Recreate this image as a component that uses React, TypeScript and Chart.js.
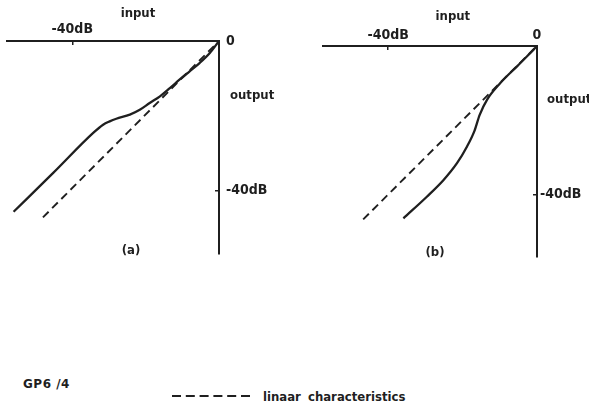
import React, { useEffect, useRef } from "react";
import { Chart, registerables } from "chart.js";

Chart.register(...registerables);

// ---------- data (dB) ----------
// Panel (a)
const A_CURVE_IN = [-56.0, -45.2, -34.3, -31.6, -29.8, -28.0, -24.3, -21.6, -18.9, -16.1, -13.4, -10.7, -8.0, -5.3, -2.5, 0];
const A_CURVE_OUT = [-45.7, -35.3, -24.6, -22.4, -21.5, -20.8, -19.7, -18.4, -16.6, -14.8, -12.6, -10.3, -8.1, -5.9, -3.2, 0];
const A_LINEAR_IN = [-48, 0];
const A_LINEAR_OUT = [-47.2, 0];
// Panel (b)
const B_CURVE_IN = [-35.9, -29.6, -25.1, -21.5, -18.8, -16.8, -15.4, -13.4, -9.8, -5.3, -2.6, 0];
const B_CURVE_OUT = [-46.3, -40.5, -36.0, -31.5, -27.0, -22.8, -18.5, -14.4, -9.9, -5.4, -2.7, 0];
const B_LINEAR_IN = [-46.7, 0];
const B_LINEAR_OUT = [-46.6, 0];

// ticks
const A_X_TICKS = [-40];
const A_X_TICK_LABELS = ["-40dB"];
const A_Y_TICKS = [-40, 0];
const A_Y_TICK_LABELS = ["-40dB", "0"];
const B_X_TICKS = [-40, 0];
const B_X_TICK_LABELS = ["-40dB", "0"];
const B_Y_TICKS = [-40];
const B_Y_TICK_LABELS = ["-40dB"];

// texts
const INPUT_LABEL = "input";
const OUTPUT_LABEL = "output";
const A_CAPTION = "(a)";
const B_CAPTION = "(b)";
const LEGEND_LABEL = "linaar characteristics";
const FIGURE_CODE = "GP6 /4";

// ---------- style ----------
const INK = "#1f1f1f";
const FAMILY = '"DejaVu Sans Condensed", "DejaVu Sans", sans-serif';

const toPoints = (xs: number[], ys: number[]) => xs.map((x, i) => ({ x, y: ys[i] }));

const panelTextPlugin = {
  id: "panelText",
  afterDraw(chart: any, _args: any, opts: any) {
    const { ctx } = chart;
    const xs = chart.scales.x;
    const ys = chart.scales.y;
    ctx.save();
    ctx.fillStyle = INK;
    ctx.textBaseline = "middle";
    for (const t of opts.items || []) {
      ctx.font = `bold ${t.size}px ${FAMILY}`;
      ctx.textAlign = t.align;
      ctx.fillText(t.text, xs.getPixelForValue(t.x), ys.getPixelForValue(t.y));
    }
    ctx.restore();
  },
};

type PanelCfg = {
  left: number;
  w: number;
  h: number;
  curveIn: number[];
  curveOut: number[];
  linIn: number[];
  linOut: number[];
  xMin: number;
  yMin: number;
  xTicks: number[];
  xTickLabels: string[];
  yTicks: number[];
  yTickLabels: string[];
  padLeft: number;
  padBottom: number;
  topH: number;
  rightW: number;
  xPad: number;
  yPad: number;
  texts: any[];
};

function Panel({ cfg }: { cfg: PanelCfg }) {
  const ref = useRef<HTMLCanvasElement>(null);
  useEffect(() => {
    const canvas = ref.current;
    if (!canvas) return;
    const tickFont = { family: FAMILY, size: 14, weight: "bold" as const };
    const chart = new Chart(canvas, {
      type: "scatter",
      data: {
        datasets: [
          {
            label: "curve",
            data: toPoints(cfg.curveIn, cfg.curveOut),
            showLine: true,
            borderColor: INK,
            borderWidth: 2.3,
            pointRadius: 0,
            cubicInterpolationMode: "monotone",
            fill: false,
          },
          {
            label: "linear",
            data: toPoints(cfg.linIn, cfg.linOut),
            showLine: true,
            borderColor: INK,
            borderWidth: 1.9,
            borderDash: [8, 5],
            pointRadius: 0,
            fill: false,
          },
        ],
      },
      options: {
        responsive: false,
        maintainAspectRatio: false,
        animation: false,
        devicePixelRatio: 1,
        layout: { padding: { left: cfg.padLeft, top: 0, right: 0, bottom: cfg.padBottom } },
        plugins: {
          legend: { display: false },
          tooltip: { enabled: false },
          panelText: { items: cfg.texts },
        } as any,
        scales: {
          x: {
            type: "linear",
            position: "top",
            min: cfg.xMin,
            max: 0,
            border: { display: true, color: INK, width: 2 },
            grid: { display: true, drawOnChartArea: false, drawTicks: true, tickLength: -4, color: INK, lineWidth: 1.5 },
            ticks: {
              color: INK,
              font: tickFont,
              padding: cfg.xPad,
              autoSkip: false,
              maxRotation: 0,
              callback: (v: any) => {
                const i = cfg.xTicks.indexOf(Number(v));
                return i >= 0 ? cfg.xTickLabels[i] : "";
              },
            },
            afterBuildTicks: (s: any) => {
              s.ticks = cfg.xTicks.map((value) => ({ value }));
            },
            afterFit: (s: any) => {
              s.height = cfg.topH;
            },
          },
          y: {
            type: "linear",
            position: "right",
            min: cfg.yMin,
            max: 0,
            border: { display: true, color: INK, width: 2 },
            grid: { display: true, drawOnChartArea: false, drawTicks: true, tickLength: -4, color: INK, lineWidth: 1.5 },
            ticks: {
              color: INK,
              font: tickFont,
              padding: cfg.yPad,
              autoSkip: false,
              callback: (v: any) => {
                const i = cfg.yTicks.indexOf(Number(v));
                return i >= 0 ? cfg.yTickLabels[i] : "";
              },
            },
            afterBuildTicks: (s: any) => {
              s.ticks = cfg.yTicks.map((value) => ({ value }));
            },
            afterFit: (s: any) => {
              s.width = cfg.rightW;
            },
          },
        },
      },
      plugins: [panelTextPlugin as any],
    });
    return () => chart.destroy();
  }, [cfg]);
  return (
    <canvas
      ref={ref}
      width={cfg.w}
      height={cfg.h}
      style={{ position: "absolute", left: cfg.left, top: 0, width: cfg.w, height: cfg.h }}
    />
  );
}

const PANEL_A: PanelCfg = {
  left: 0,
  w: 300,
  h: 275,
  curveIn: A_CURVE_IN,
  curveOut: A_CURVE_OUT,
  linIn: A_LINEAR_IN,
  linOut: A_LINEAR_OUT,
  xMin: -57.8,
  yMin: -57,
  xTicks: A_X_TICKS,
  xTickLabels: A_X_TICK_LABELS,
  yTicks: A_Y_TICKS,
  yTickLabels: A_Y_TICK_LABELS,
  padLeft: 7,
  padBottom: 21,
  topH: 41,
  rightW: 81,
  xPad: 7,
  yPad: 11,
  texts: [
    { text: INPUT_LABEL, x: -22.1, y: 7.2, align: "center", size: 13 },
    { text: OUTPUT_LABEL, x: 3.0, y: -14.7, align: "left", size: 13 },
    { text: A_CAPTION, x: -24.0, y: -56.2, align: "center", size: 13 },
  ],
};

const PANEL_B: PanelCfg = {
  left: 300,
  w: 289,
  h: 275,
  curveIn: B_CURVE_IN,
  curveOut: B_CURVE_OUT,
  linIn: B_LINEAR_IN,
  linOut: B_LINEAR_OUT,
  xMin: -57.5,
  yMin: -56.7,
  xTicks: B_X_TICKS,
  xTickLabels: B_X_TICK_LABELS,
  yTicks: B_Y_TICKS,
  yTickLabels: B_Y_TICK_LABELS,
  padLeft: 23,
  padBottom: 18,
  topH: 46,
  rightW: 52,
  xPad: 6,
  yPad: 7,
  texts: [
    { text: INPUT_LABEL, x: -22.6, y: 7.8, align: "center", size: 13 },
    { text: OUTPUT_LABEL, x: 2.7, y: -14.5, align: "left", size: 13 },
    { text: B_CAPTION, x: -27.4, y: -55.4, align: "center", size: 13 },
  ],
};

export default function App() {
  return (
    <div style={{ position: "absolute", left: 0, top: 0, width: 589, height: 405, background: "#fff", overflow: "hidden" }}>
      <Panel cfg={PANEL_A} />
      <Panel cfg={PANEL_B} />
      <div
        style={{
          position: "absolute",
          left: 23,
          top: 377,
          lineHeight: "14px",
          font: `bold 12px "DejaVu Sans", sans-serif`,
          letterSpacing: "0.5px",
          color: INK,
          whiteSpace: "nowrap",
        }}
      >
        {FIGURE_CODE}
      </div>
      <svg style={{ position: "absolute", left: 172, top: 393 }} width={80} height={6}>
        <line x1={0} y1={3} x2={78} y2={3} stroke={INK} strokeWidth={2} strokeDasharray="9 4.8" />
      </svg>
      <div
        style={{
          position: "absolute",
          left: 263,
          top: 389,
          lineHeight: "14px",
          font: `bold 13px ${FAMILY}`,
          wordSpacing: "3px",
          color: INK,
          whiteSpace: "nowrap",
        }}
      >
        {LEGEND_LABEL}
      </div>
    </div>
  );
}
